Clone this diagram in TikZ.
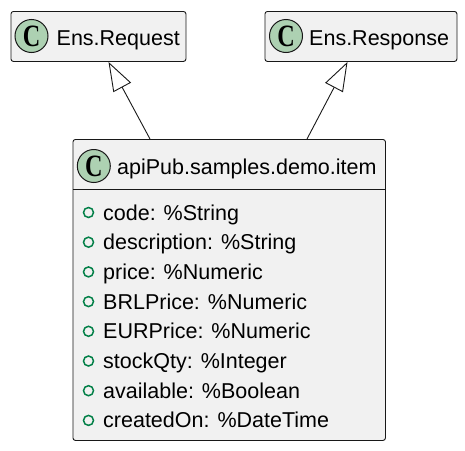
\documentclass[tikz,border=0pt]{standalone}
\usepackage{fontspec}
\setmainfont{Liberation Sans}
\newfontfamily\spotfont{Liberation Serif}
\usetikzlibrary{arrows.meta, calc}
\definecolor{boxfill}{HTML}{F1F1F1}
\definecolor{boxline}{HTML}{181818}
\definecolor{spotgreen}{HTML}{ADD1B2}
\definecolor{fieldgreen}{HTML}{038048}

\begin{document}
\begin{tikzpicture}[x=1pt, y=-1pt,
	every node/.style={inner sep=0pt, font=\fontsize{21.5}{26}\selectfont},
	class/.style={draw=boxline, fill=boxfill, rounded corners=2.5pt, line width=0.9pt, anchor=north west},
	spot/.style={circle, draw=boxline, fill=spotgreen, minimum size=33pt, line width=1pt, font=\fontsize{31}{31}\spotfont\bfseries},
	field/.style={circle, draw=fieldgreen, minimum size=10pt, line width=1.5pt},
	label/.style={anchor=base west},
	extends/.style={-{Triangle[open, length=29pt, width=20pt, fill=white]}, line width=0.9pt, draw=boxline}]
	\useasboundingbox (0,0) rectangle (465,450);
	
	% parent classes
	\node[class, minimum width=175pt, minimum height=50pt] (req) at (10.5,11) {};
	\node[spot] (reqC) at (31.5,36) {\scalebox{0.78}[1]{C}};
	\node[label] (reqT) at (56.5,45.5) {Ens.Request};
	
	\node[class, minimum width=192pt, minimum height=50pt] (resp) at (264.5,11) {};
	\node[spot] (respC) at (286,36) {\scalebox{0.78}[1]{C}};
	\node[label] (respT) at (309,45.5) {Ens.Response};
	
	% item class
	\node[class, minimum width=312.5pt, minimum height=301pt] (item) at (72.5,139) {};
	\node[spot] (itemC) at (93.8,166) {\scalebox{0.78}[1]{C}};
	\node[label] (itemT) at (117,174) {apiPub.samples.demo.item};
	\draw[boxline, line width=0.9pt] ($(item.north west)+(0,50)$) -- ($(item.north east)+(0,50)$);
	
	\foreach \txt [count=\i from 0] in {code: \%String, description: \%String, price: \%Numeric, BRLPrice: \%Numeric, EURPrice: \%Numeric, stockQty: \%Integer, available: \%Boolean, createdOn: \%DateTime} {
		\node[field] (f\i) at (88.5,212.5+29.7*\i) {};
		\node[label] (a\i) at (103,220+29.7*\i) {\txt};
	}
	
	% generalisation
	\draw[extends] ($(item.north west)+(77.5,0)$) -- ($(req.south west)+(98,0)$);
	\draw[extends] ($(item.north west)+(234.5,0)$) -- ($(resp.south west)+(83,0)$);
\end{tikzpicture}
\end{document}
